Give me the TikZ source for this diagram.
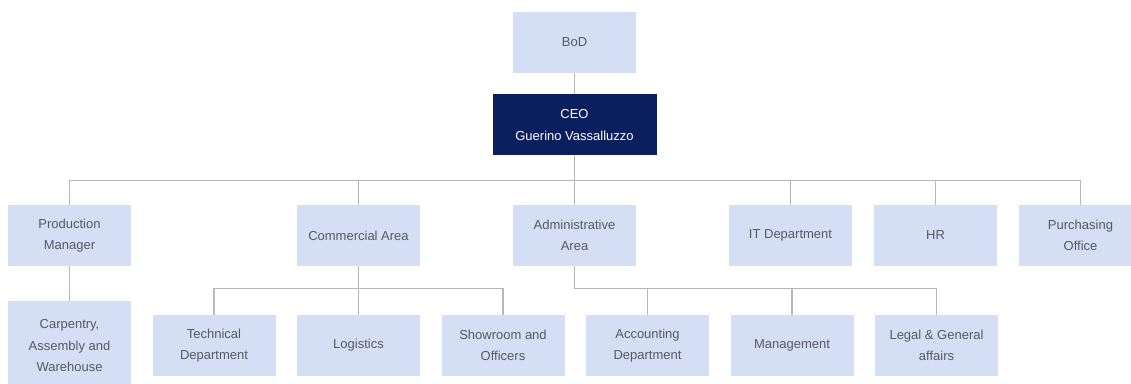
\documentclass[tikz,border=0pt]{standalone}
\usepackage{fontspec}
\setmainfont{Liberation Sans}
\usetikzlibrary{positioning, calc}

\definecolor{boxblue}{HTML}{D4DEF4}
\definecolor{ceonavy}{HTML}{0B1F5E}
\definecolor{textgray}{HTML}{555A66}
\definecolor{linegray}{HTML}{B8B8B8}

\begin{document}
\begin{tikzpicture}[
        x=1pt, y=1pt,
        node distance=22pt and 22pt,
        % Box styles for the org chart
        unitbox/.style={rectangle, fill=boxblue, text=textgray, minimum width=123pt, minimum height=61pt, inner sep=2pt, outer sep=0pt, align=center, font=\fontsize{13}{21.5}\selectfont},
        ceobox/.style={unitbox, fill=ceonavy, text=white, minimum width=164pt},
        link/.style={draw=linegray, line width=1.5pt}
    ]

    \useasboundingbox (0,0) rectangle (1131,-383);

    % 1. Top
    \node (bod) [unitbox] at (574.5,-42.3) {BoD};
    \node (ceo) [ceobox, below=21.5pt of bod] {CEO \\ Guerino Vassalluzzo};

    % 2. Areas
    \node (prod) [unitbox] at (69.5,-235.5) {Production \\ Manager};
    \node (com) [unitbox, right=166pt of prod] {Commercial Area};
    \node (adm) [unitbox, right=93pt of com] {Administrative \\ Area};
    \node (it) [unitbox, right=93pt of adm] {IT Department};
    \node (hr) [unitbox, right=of it] {HR};
    \node (pur) [unitbox, right=of hr] {Purchasing \\ Office};

    % 3. Offices
    \node (carp) [unitbox, minimum height=90pt, below=35pt of prod] {Carpentry, \\ Assembly and \\ Warehouse};
    \node (tech) [unitbox] at (214,-345.5) {Technical \\ Department};
    \node (log) [unitbox, right=21.5pt of tech] {Logistics};
    \node (show) [unitbox, right=21.5pt of log] {Showroom and \\ Officers};
    \node (acc) [unitbox, right=21.5pt of show] {Accounting \\ Department};
    \node (mgmt) [unitbox, right=21.5pt of acc] {Management};
    \node (legal) [unitbox, right=21.5pt of mgmt] {Legal \& General \\ affairs};

    % Lines BoD -> CEO -> areas
    \draw [link] (bod) -- (ceo);
    \draw [link] (ceo.south) -- ++(0,-25) -| (prod);
    \draw [link] (ceo.south) -- ++(0,-25) -| (com);
    \draw [link] (ceo.south) -- ++(0,-25) -| (adm);
    \draw [link] (ceo.south) -- ++(0,-25) -| (it);
    \draw [link] (ceo.south) -- ++(0,-25) -| (hr);
    \draw [link] (ceo.south) -- ++(0,-25) -| (pur);

    % Lines areas -> offices
    \draw [link] (prod) -- (carp);
    \draw [link] (com.south) -- ++(0,-22.5) -| (tech);
    \draw [link] (com) -- (log);
    \draw [link] (com.south) -- ++(0,-22.5) -| (show);
    \draw [link] (adm.south) -- ++(0,-22.5) -| (acc);
    \draw [link] (adm.south) -- ++(0,-22.5) -| (mgmt);
    \draw [link] (adm.south) -- ++(0,-22.5) -| (legal);

\end{tikzpicture}
\end{document}
